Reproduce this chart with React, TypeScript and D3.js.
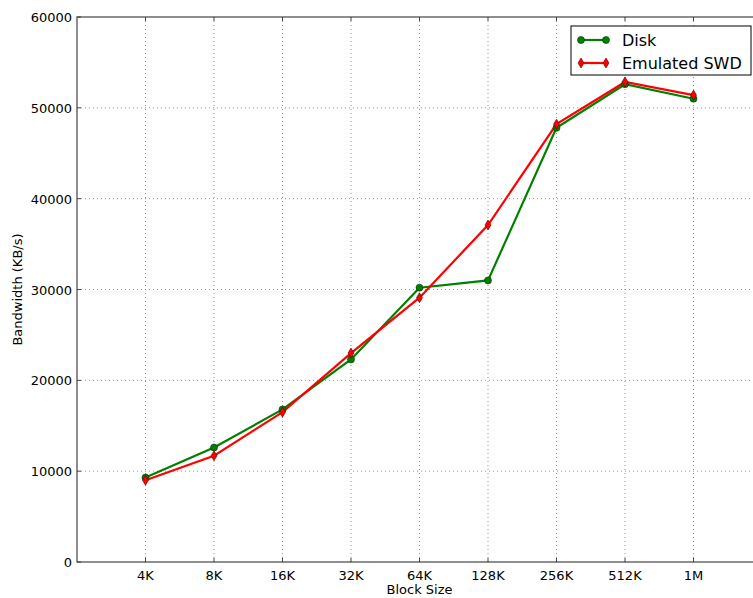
import React, { useRef, useEffect } from 'react';
import * as d3 from 'd3';

// Block sizes on the x axis
const blockSizes = ['4K', '8K', '16K', '32K', '64K', '128K', '256K', '512K', '1M'];

// Bandwidth (KB/s) per block size
const diskValues = [9300, 12600, 16800, 22300, 30200, 31000, 47800, 52600, 51000];
const swdValues = [9000, 11700, 16500, 23000, 29100, 37100, 48200, 52850, 51400];

const yTicks = [0, 10000, 20000, 30000, 40000, 50000, 60000];

const COLORS = {
  disk: '#008000',
  swd: '#ff0000',
  grid: '#777777',
  spine: '#444444',
};

export default function App() {
  const svgRef = useRef<SVGSVGElement>(null);
  const width = 753;
  const height = 598;

  useEffect(() => {
    const svg = d3.select(svgRef.current);
    svg.selectAll('*').remove();

    const margin = { top: 17, left: 77, right: 762, bottom: 562 };
    const font = 'DejaVu Sans, sans-serif';

    // x positions: index 1..9 on a 0..10 domain
    const x = d3.scaleLinear().domain([0, 10]).range([margin.left, margin.right]);
    const y = d3.scaleLinear().domain([0, 60000]).range([margin.bottom, margin.top]);

    svg.append('rect')
      .attr('width', width).attr('height', height).attr('fill', '#fff');

    const g = svg.append('g');

    // Grid
    blockSizes.forEach((_, i) => {
      g.append('line')
        .attr('x1', x(i + 1)).attr('x2', x(i + 1))
        .attr('y1', margin.top).attr('y2', margin.bottom)
        .attr('stroke', COLORS.grid).attr('stroke-width', 0.8)
        .attr('stroke-dasharray', '1,3');
    });
    yTicks.slice(1, -1).forEach(t => {
      g.append('line')
        .attr('x1', margin.left).attr('x2', margin.right)
        .attr('y1', y(t)).attr('y2', y(t))
        .attr('stroke', COLORS.grid).attr('stroke-width', 0.8)
        .attr('stroke-dasharray', '1,3');
    });

    // Tick marks (inside, on all four sides)
    blockSizes.forEach((_, i) => {
      const xx = x(i + 1);
      g.append('line').attr('x1', xx).attr('x2', xx)
        .attr('y1', margin.bottom).attr('y2', margin.bottom - 4)
        .attr('stroke', COLORS.spine).attr('stroke-width', 1);
      g.append('line').attr('x1', xx).attr('x2', xx)
        .attr('y1', margin.top).attr('y2', margin.top + 4)
        .attr('stroke', COLORS.spine).attr('stroke-width', 1);
    });
    yTicks.forEach(t => {
      g.append('line').attr('x1', margin.left).attr('x2', margin.left + 4)
        .attr('y1', y(t)).attr('y2', y(t))
        .attr('stroke', COLORS.spine).attr('stroke-width', 1);
      g.append('line').attr('x1', margin.right - 4).attr('x2', margin.right)
        .attr('y1', y(t)).attr('y2', y(t))
        .attr('stroke', COLORS.spine).attr('stroke-width', 1);
    });

    // Tick labels
    g.selectAll('.xlab').data(blockSizes).enter().append('text')
      .attr('x', (_, i) => x(i + 1)).attr('y', margin.bottom + 18)
      .attr('text-anchor', 'middle')
      .style('font-family', font).style('font-size', '13px').style('fill', '#000')
      .text(d => d);

    g.selectAll('.ylab').data(yTicks).enter().append('text')
      .attr('x', margin.left - 5).attr('y', d => y(d) + 5)
      .attr('text-anchor', 'end')
      .style('font-family', font).style('font-size', '13px').style('fill', '#000')
      .text(d => String(d));

    // Axis labels
    g.append('text')
      .attr('x', (margin.left + margin.right) / 2).attr('y', 594)
      .attr('text-anchor', 'middle')
      .style('font-family', font).style('font-size', '13px')
      .text('Block Size');

    g.append('text')
      .attr('transform', `translate(22, ${(margin.top + margin.bottom) / 2}) rotate(-90)`)
      .attr('text-anchor', 'middle')
      .style('font-family', font).style('font-size', '13px')
      .text('Bandwidth (KB/s)');

    // Lines
    const line = d3.line<number>()
      .x((_, i) => x(i + 1))
      .y(d => y(d));

    g.append('path').datum(diskValues)
      .attr('d', line).attr('fill', 'none')
      .attr('stroke', COLORS.disk).attr('stroke-width', 2.2);

    g.append('path').datum(swdValues)
      .attr('d', line).attr('fill', 'none')
      .attr('stroke', COLORS.swd).attr('stroke-width', 2.2);

    // Markers
    g.selectAll('.disk-pt').data(diskValues).enter().append('circle')
      .attr('cx', (_, i) => x(i + 1)).attr('cy', d => y(d)).attr('r', 3.5)
      .attr('fill', COLORS.disk).attr('stroke', '#003300').attr('stroke-width', 0.6);

    const diamond = 'M0,-5 L3,0 L0,5 L-3,0 Z';
    g.selectAll('.swd-pt').data(swdValues).enter().append('path')
      .attr('transform', (d, i) => `translate(${x(i + 1)},${y(d)})`)
      .attr('d', diamond)
      .attr('fill', COLORS.swd).attr('stroke', '#550000').attr('stroke-width', 0.6);

    // Spines
    g.append('rect')
      .attr('x', margin.left).attr('y', margin.top)
      .attr('width', margin.right - margin.left).attr('height', margin.bottom - margin.top)
      .attr('fill', 'none').attr('stroke', COLORS.spine).attr('stroke-width', 1.2);

    // Legend
    const legend = g.append('g').attr('transform', 'translate(571, 26)');
    legend.append('rect')
      .attr('width', 180).attr('height', 49)
      .attr('fill', '#fff').attr('stroke', '#000').attr('stroke-width', 1);

    const legendData = [
      { label: 'Disk', color: COLORS.disk, edge: '#003300', marker: 'circle' },
      { label: 'Emulated SWD', color: COLORS.swd, edge: '#550000', marker: 'diamond' },
    ];
    const items = legend.selectAll('.legend-item').data(legendData).enter().append('g')
      .attr('transform', (_, i) => `translate(0, ${14 + i * 23})`);
    items.append('line')
      .attr('x1', 10).attr('x2', 35).attr('y1', 0).attr('y2', 0)
      .attr('stroke', d => d.color).attr('stroke-width', 2.2);
    items.each(function (d) {
      const it = d3.select(this);
      [10, 35].forEach(px => {
        if (d.marker === 'circle') {
          it.append('circle').attr('cx', px).attr('cy', 0).attr('r', 3.5)
            .attr('fill', d.color).attr('stroke', d.edge).attr('stroke-width', 0.6);
        } else {
          it.append('path').attr('transform', `translate(${px},0)`).attr('d', diamond)
            .attr('fill', d.color).attr('stroke', d.edge).attr('stroke-width', 0.6);
        }
      });
    });
    items.append('text')
      .attr('x', 51).attr('y', 6)
      .style('font-family', font).style('font-size', '16px')
      .text(d => d.label);
  }, []);

  return (
    <svg
      ref={svgRef}
      width={width}
      height={height}
      style={{ position: 'absolute', left: 0, top: 0, display: 'block' }}
    />
  );
}
